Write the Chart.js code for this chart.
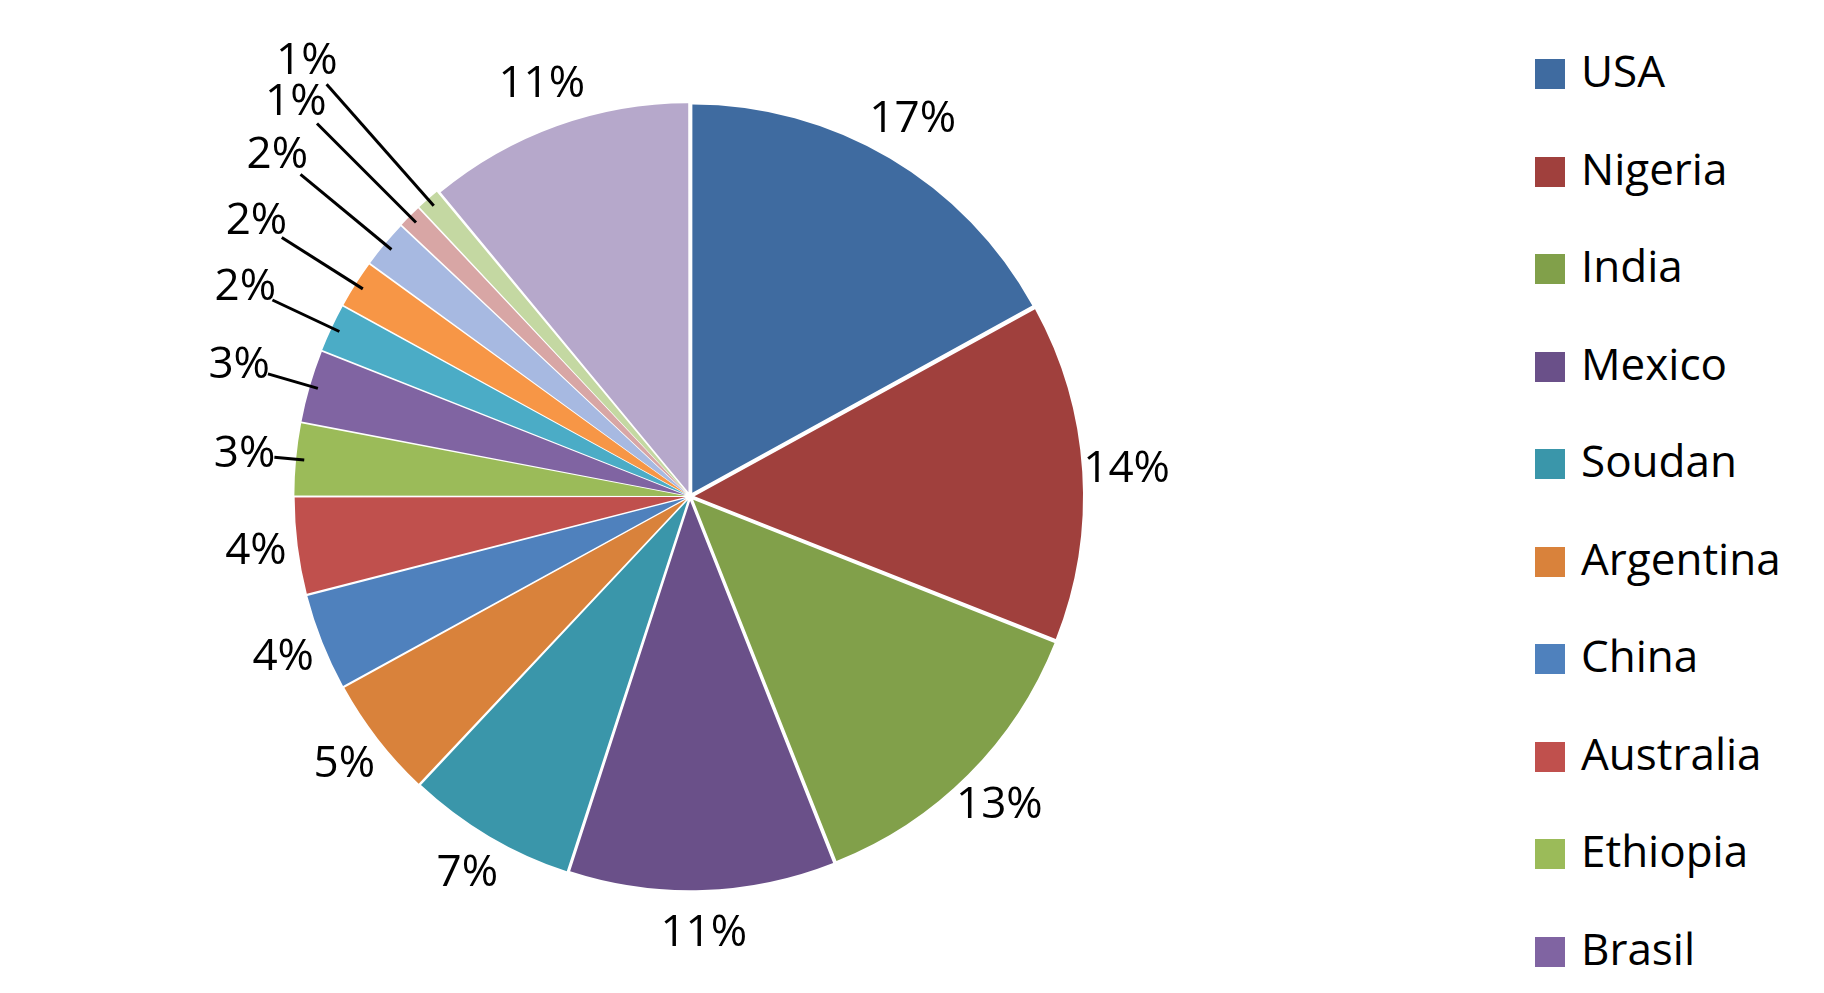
<!DOCTYPE html>
<html>
<head>
<meta charset="utf-8">
<script src="https://cdn.jsdelivr.net/npm/chart.js@4"></script>
<style>
  body { margin: 0; background: #fff; font-family: "Open Sans", "Liberation Sans", sans-serif; }
  #wrap { position: absolute; left: 0; top: 0; width: 1500px; height: 993px; }
  #legend { position: absolute; left: 1535px; top: 38px; list-style: none; margin: 0; padding: 0; }
  #legend li { font-size: 44px; height: 97.5px; line-height: 64px; color: #000; }
  #legend span { display: inline-block; width: 30px; height: 30px; margin-right: 16px; vertical-align: -2px; }
</style>
</head>
<body>
<div id="wrap"><canvas id="pieChart"></canvas></div>
<ul id="legend"></ul>
<script>
// slices, clockwise from the top
const countries = ['USA', 'Nigeria', 'India', 'Mexico', 'Soudan', 'Argentina', 'China', 'Australia',
    'Ethiopia', 'Brasil', 'Other 1', 'Other 2', 'Other 3', 'Other 4', 'Other 5', 'Other 6'];
const shares = [17, 14, 13, 11, 7, 5, 4, 4, 3, 3, 2, 2, 2, 1, 1, 11];
const sliceColors = ['#3F6BA0', '#A0403D', '#81A04A', '#6A5089', '#3A96AA', '#D9823B', '#4F81BD', '#C0504D',
    '#9BBB59', '#8064A2', '#4BACC6', '#F79646', '#A7B9E1', '#D8A6A5', '#C4D8A2', '#B6A8CB'];
const legendCount = 10;

// legend (first ten countries only, as in the original)
const legendEl = document.getElementById('legend');
countries.slice(0, legendCount).forEach((name, i) => {
    const li = document.createElement('li');
    li.innerHTML = '<span style="background:' + sliceColors[i] + '"></span>' + name;
    legendEl.appendChild(li);
});

// percentage labels outside each slice, leader lines for the small ones
const pctLabels = {
    id: 'pctLabels',
    afterDatasetsDraw(chart) {
        const ctx = chart.ctx;
        const meta = chart.getDatasetMeta(0);
        ctx.save();
        ctx.font = '44px "Open Sans", "Liberation Sans", sans-serif';
        ctx.fillStyle = '#000';
        ctx.strokeStyle = '#000';
        ctx.lineWidth = 3;
        ctx.textAlign = 'center';
        ctx.textBaseline = 'middle';
        meta.data.forEach((arc, i) => {
            const p = arc.getProps(['x', 'y', 'startAngle', 'endAngle', 'outerRadius'], true);
            const mid = (p.startAngle + p.endAngle) / 2;
            let r = p.outerRadius + 50;
            if (i >= 8 && i <= 14) {
                r = p.outerRadius + 60 + (i - 8) * 22;
                const x0 = p.x + Math.cos(mid) * p.outerRadius, y0 = p.y + Math.sin(mid) * p.outerRadius;
                const x1 = p.x + Math.cos(mid) * (r - 30), y1 = p.y + Math.sin(mid) * (r - 30);
                ctx.beginPath();
                ctx.moveTo(x0, y0);
                ctx.lineTo(x1, y1);
                ctx.stroke();
            }
            ctx.fillText(shares[i] + '%', p.x + Math.cos(mid) * r, p.y + Math.sin(mid) * r);
        });
        ctx.restore();
    }
};

new Chart(document.getElementById('pieChart'), {
    type: 'pie',
    data: {
        labels: countries,
        datasets: [{
            data: shares,
            backgroundColor: sliceColors,
            borderWidth: 0,
            offset: 18
        }]
    },
    options: {
        responsive: true,
        maintainAspectRatio: false,
        animation: false,
        layout: { padding: { top: 100, bottom: 100, left: 120, right: 240 } },
        plugins: {
            legend: { display: false },
            tooltip: { enabled: false }
        }
    },
    plugins: [pctLabels]
});
</script>
</body>
</html>
